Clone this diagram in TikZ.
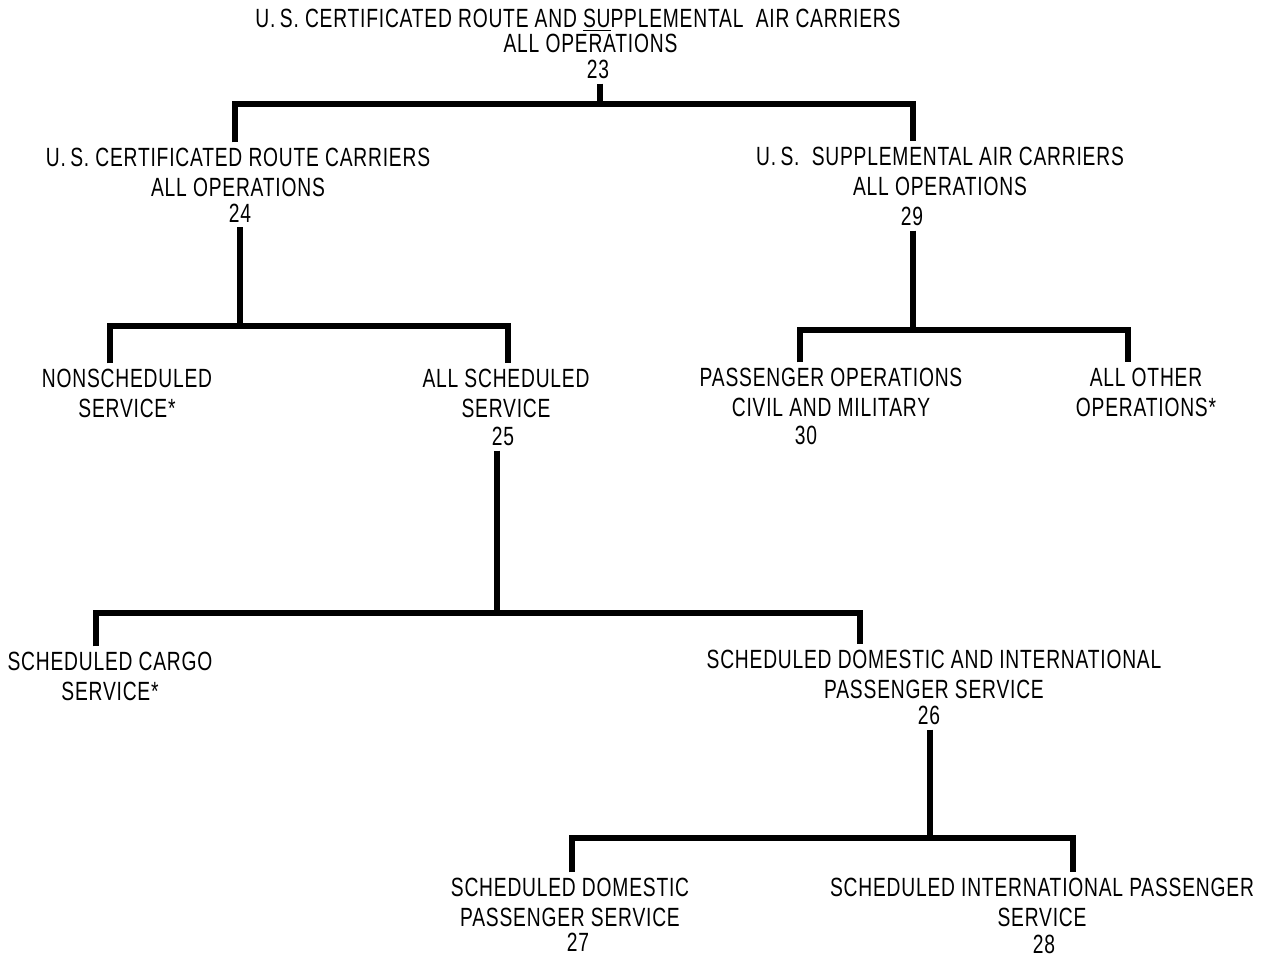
\documentclass[tikz,border=0pt]{standalone}
\usepackage{fontspec}
\setmainfont{Liberation Sans}[FakeStretch=0.73,LetterSpace=3]
\begin{document}
\begin{tikzpicture}[x=0.02cm,y=-0.02cm,
  lbl/.style={font=\fontsize{15}{17}\selectfont, align=center, inner sep=0pt, outer sep=3pt},
  num/.style={font=\fontsize{15}{17}\selectfont, inner sep=0pt, outer sep=3pt},
  conn/.style={line width=3.5pt, line cap=butt, line join=miter}]
\useasboundingbox[fill=white] (0,0) rectangle (1265,959);
% labels
\node[lbl] (t23) at (578,31) {U.\,S. CERTIFICATED ROUTE AND \underline{SU}PPLEMENTAL\ \ AIR CARRIERS\\[-0.1cm]\hspace*{0.5cm}ALL OPERATIONS};
\node[num] (n23) at (598,69) {23};
\node[lbl] (t24) at (238,172) {U.\,S. CERTIFICATED ROUTE CARRIERS\\ALL OPERATIONS};
\node[num] (n24) at (240,213) {24};
\node[lbl] (t29) at (940,171) {U.\,S.\ \ SUPPLEMENTAL AIR CARRIERS\\ALL OPERATIONS};
\node[num] (n29) at (912,216) {29};
\node[lbl] (tNS) at (127,393) {NONSCHEDULED\\SERVICE*};
\node[lbl] (t25) at (506,393) {ALL SCHEDULED\\SERVICE};
\node[num] (n25) at (503,436) {25};
\node[lbl] (t30) at (831,392) {PASSENGER OPERATIONS\\CIVIL AND MILITARY};
\node[num] (n30) at (806,435) {30};
\node[lbl] (tAO) at (1146,392) {ALL OTHER\\OPERATIONS*};
\node[lbl] (tSC) at (110,676) {SCHEDULED CARGO\\SERVICE*};
\node[lbl] (t26) at (934,674) {SCHEDULED DOMESTIC AND INTERNATIONAL\\PASSENGER SERVICE};
\node[num] (n26) at (929,715) {26};
\node[lbl] (t27) at (570,902) {SCHEDULED DOMESTIC\\PASSENGER SERVICE};
\node[num] (n27) at (578,942) {27};
\node[lbl] (t28) at (1042,902) {SCHEDULED INTERNATIONAL PASSENGER\\SERVICE};
\node[num] (n28) at (1044,944) {28};
% junctions
\coordinate (j23) at (600,104); \coordinate (l23) at (235,104); \coordinate (r23) at (913,104);
\coordinate (j24) at (240,326); \coordinate (l24) at (110,326); \coordinate (r24) at (508,326);
\coordinate (j29) at (913,330); \coordinate (l29) at (800,330); \coordinate (r29) at (1128,330);
\coordinate (j25) at (497,613); \coordinate (l25) at (96,613);  \coordinate (r25) at (860,613);
\coordinate (j26) at (930,838); \coordinate (l26) at (572,838); \coordinate (r26) at (1073,838);
% connectors
\draw[conn] (n23.south -| j23) -- (j23);
\draw[conn] (l23 |- t24.north) -- (l23) -- (r23) -- (r23 |- t29.north);
\draw[conn] (n24.south -| j24) -- (j24);
\draw[conn] (l24 |- tNS.north) -- (l24) -- (r24) -- (r24 |- t25.north);
\draw[conn] (n29.south -| j29) -- (j29);
\draw[conn] (l29 |- t30.north) -- (l29) -- (r29) -- (r29 |- tAO.north);
\draw[conn] (n25.south -| j25) -- (j25);
\draw[conn] (l25 |- tSC.north) -- (l25) -- (r25) -- (r25 |- t26.north);
\draw[conn] (n26.south -| j26) -- (j26);
\draw[conn] (l26 |- t27.north) -- (l26) -- (r26) -- (r26 |- t28.north);
\end{tikzpicture}
\end{document}
